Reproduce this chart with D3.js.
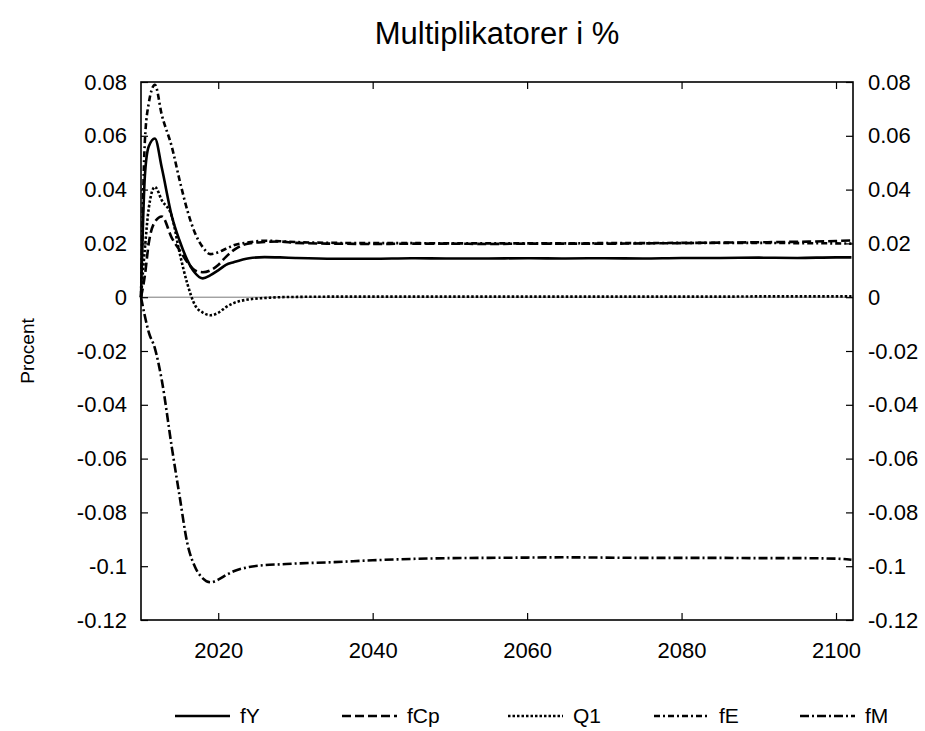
<!DOCTYPE html>
<html>
<head>
<meta charset="utf-8">
<script src="https://cdn.jsdelivr.net/npm/d3@7"></script>
<style>
  body { margin: 0; background: #fff; }
  text { font-family: "Liberation Sans", Arial, sans-serif; fill: #000; }
</style>
</head>
<body>
<div id="chart"></div>
<script>
// ====== Multiplikatorer i % ======

const years = [2010, 2010.5, 2011, 2011.8, 2012.7, 2014, 2015, 2016, 2017, 2018, 2019, 2020, 2021, 2022,
    2024, 2026, 2028, 2030, 2035, 2040, 2045, 2050, 2055, 2060, 2065, 2070, 2075, 2080, 2085, 2090, 2095, 2100, 2102];

const fY = [0, 0.045, 0.056, 0.059, 0.048, 0.030, 0.021, 0.0138, 0.009, 0.007, 0.0082, 0.010, 0.012, 0.013,
    0.0145, 0.0149, 0.0148, 0.0146, 0.0143, 0.0143, 0.0145, 0.0144, 0.0144, 0.0145, 0.0144, 0.0145, 0.0144, 0.0146, 0.0146, 0.0147, 0.0146, 0.0148, 0.0148];
const fCp = [0, 0.008, 0.020, 0.028, 0.030, 0.022, 0.0175, 0.013, 0.010, 0.0093, 0.010, 0.012, 0.015, 0.0175,
    0.020, 0.0205, 0.0207, 0.0202, 0.0199, 0.0198, 0.0199, 0.0199, 0.0198, 0.0199, 0.0199, 0.0199, 0.0200, 0.0201, 0.0203, 0.0204, 0.0206, 0.0209, 0.0211];
const Q1 = [0, 0.018, 0.033, 0.041, 0.036, 0.030, 0.0165, 0.005, -0.003, -0.0057, -0.0067, -0.0058, -0.0037, -0.0022,
    -0.0008, -0.0003, 0, 0.0001, 0.0002, 0.0002, 0.0002, 0.0002, 0.0002, 0.0002, 0.0002, 0.0002, 0.0002, 0.0002, 0.0002, 0.0003, 0.0003, 0.0003, 0.0003];
const fE = [0, 0.058, 0.072, 0.079, 0.0677, 0.0558, 0.0435, 0.0323, 0.0238, 0.0186, 0.016, 0.0167, 0.018, 0.0193,
    0.0204, 0.021, 0.0208, 0.0205, 0.0202, 0.0201, 0.0201, 0.0200, 0.0200, 0.0200, 0.0200, 0.0201, 0.0201, 0.0202, 0.0202, 0.0202, 0.0201, 0.0200, 0.0199];
const fM = [0, -0.007, -0.013, -0.019, -0.031, -0.056, -0.074, -0.0915, -0.1003, -0.1045, -0.106, -0.105, -0.1033, -0.1019,
    -0.1003, -0.0996, -0.0993, -0.099, -0.0985, -0.0978, -0.0973, -0.097, -0.0969, -0.0968, -0.0967, -0.0968, -0.0969, -0.0969, -0.0969, -0.0970, -0.0970, -0.0972, -0.0976];

const seriesNames = ['fY', 'fCp', 'Q1', 'fE', 'fM'];
const seriesValues = [fY, fCp, Q1, fE, fM];
const dashes = ['none', '9,4', '2.5,2', '6,3,2,3', '9,3,2,3'];

const yTicks = [0.08, 0.06, 0.04, 0.02, 0, -0.02, -0.04, -0.06, -0.08, -0.1, -0.12];
const xTicks = [2020, 2040, 2060, 2080, 2100];

const width = 925, height = 731;
const plot = {left: 141, right: 853, top: 82, bottom: 620};

const svg = d3.select('#chart').append('svg')
    .attr('width', width)
    .attr('height', height);

let x = d3.scaleLinear().domain([2010, 2102.2]).range([plot.left, plot.right]);
let y = d3.scaleLinear().domain([-0.12, 0.08]).range([plot.bottom, plot.top]);

// Title and y label
svg.append('text')
    .attr('x', 497).attr('y', 44)
    .attr('text-anchor', 'middle')
    .style('font-size', '31px')
    .text('Multiplikatorer i %');

svg.append('text')
    .attr('transform', 'translate(34,' + ((plot.top + plot.bottom) / 2) + ') rotate(-90)')
    .attr('text-anchor', 'middle')
    .style('font-size', '19px')
    .text('Procent');

// zero line
svg.append('line')
    .attr('x1', plot.left).attr('x2', plot.right)
    .attr('y1', y(0)).attr('y2', y(0))
    .attr('stroke', '#555').attr('stroke-width', 0.8);

// Axes with inward ticks (plain hyphen for negatives)
let fmt = d => d === 0 ? '0' : d3.format('~g')(d).replace('\u2212', '-');

svg.append('g')
    .attr('transform', 'translate(' + plot.left + ',0)')
    .call(d3.axisLeft(y).tickValues(yTicks).tickSize(-7).tickPadding(14).tickFormat(fmt))
    .call(g => g.select('.domain').remove());

svg.append('g')
    .attr('transform', 'translate(' + plot.right + ',0)')
    .call(d3.axisRight(y).tickValues(yTicks).tickSize(-7).tickPadding(15).tickFormat(fmt))
    .call(g => g.select('.domain').remove());

svg.append('g')
    .attr('transform', 'translate(0,' + plot.bottom + ')')
    .call(d3.axisBottom(x).tickValues(xTicks).tickSize(-7).tickPadding(22).tickFormat(d3.format('d')))
    .call(g => g.select('.domain').remove());

svg.append('g')
    .attr('transform', 'translate(0,' + plot.top + ')')
    .call(d3.axisTop(x).tickValues(xTicks).tickSize(-7).tickFormat(''))
    .call(g => g.select('.domain').remove());

svg.selectAll('.tick text').style('font-size', '22px').style('font-family', '"Liberation Sans", Arial, sans-serif');
svg.selectAll('.tick line').attr('stroke', '#000').attr('stroke-width', 1.2);

// Lines
let line = d3.line()
    .x((d, i) => x(years[i]))
    .y(d => y(d))
    .curve(d3.curveMonotoneX);

svg.append('g').selectAll('path')
    .data(seriesValues)
  .enter().append('path')
    .attr('d', line)
    .attr('fill', 'none')
    .attr('stroke', '#000')
    .attr('stroke-width', 2.6)
    .attr('stroke-dasharray', (d, i) => dashes[i]);

// frame
svg.append('rect')
    .attr('x', plot.left).attr('y', plot.top)
    .attr('width', plot.right - plot.left).attr('height', plot.bottom - plot.top)
    .attr('fill', 'none').attr('stroke', '#000').attr('stroke-width', 1.6);

// Legend
const legendX = [175, 342, 508, 654, 800];
let legend = svg.append('g').attr('class', 'legend');
seriesNames.forEach(function(name, i) {
    let g = legend.append('g').attr('transform', 'translate(' + legendX[i] + ',716)');
    g.append('line')
        .attr('x1', 0).attr('x2', 55)
        .attr('stroke', '#000').attr('stroke-width', 2.6)
        .attr('stroke-dasharray', dashes[i]);
    g.append('text')
        .attr('x', 65).attr('y', 7)
        .style('font-size', '21px')
        .text(name);
});
</script>
</body>
</html>
